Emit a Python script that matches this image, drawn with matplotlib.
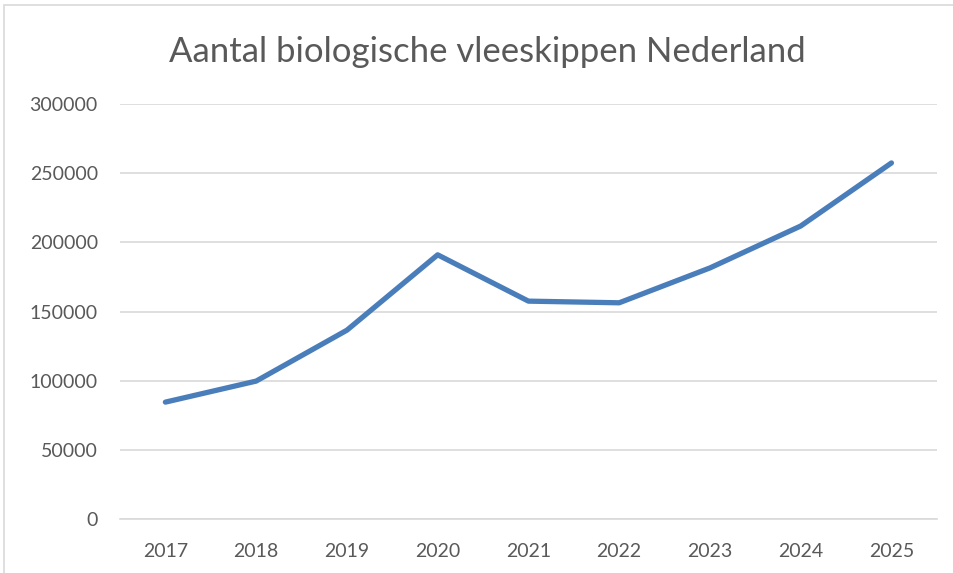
import matplotlib.pyplot as plt
from matplotlib.patches import Rectangle

# Data
years = ['2017', '2018', '2019', '2020', '2021', '2022', '2023', '2024', '2025']
kippen = [84500, 99700, 136500, 191000, 157500, 156300, 181500, 211800, 257400]
yticks = [0, 50000, 100000, 150000, 200000, 250000, 300000]

plt.rcParams['font.family'] = ['Lato', 'DejaVu Sans']

fig = plt.figure(figsize=(9.54, 5.73), dpi=100)
ax = fig.add_axes([0.1258, 0.0942, 0.8562, 0.7243])

x = list(range(len(years)))
ax.plot(x, kippen, color='#4A7EBB', linewidth=3.8, solid_capstyle='round',
        solid_joinstyle='round', zorder=3)

ax.set_xlim(-0.5, len(years) - 0.5)
ax.set_ylim(0, 300000)
ax.set_xticks(x)
ax.set_xticklabels(years)
ax.set_yticks(yticks)
ax.set_yticklabels([str(v) for v in yticks])
ax.tick_params(length=0, labelsize=14, colors='#595959')
ax.tick_params(axis='x', pad=17)
ax.tick_params(axis='y', pad=16)

ax.grid(True, axis='y', color='#D9D9D9', linewidth=1.2)
for side in ['top', 'right', 'left']:
    ax.spines[side].set_visible(False)
ax.spines['bottom'].set_color('#D9D9D9')
ax.spines['bottom'].set_linewidth(1.2)

fig.text(0.511, 0.91, 'Aantal biologische vleeskippen Nederland', ha='center',
         va='center', fontsize=25, color='#595959')

# chart border
fig.patches.append(Rectangle((4 / 954, -0.01), 1.0, 1 - 5 / 573 + 0.01,
                             transform=fig.transFigure, fill=False,
                             edgecolor='#D9D9D9', linewidth=1.2))

plt.savefig('out.png', dpi=100)
plt.close()
